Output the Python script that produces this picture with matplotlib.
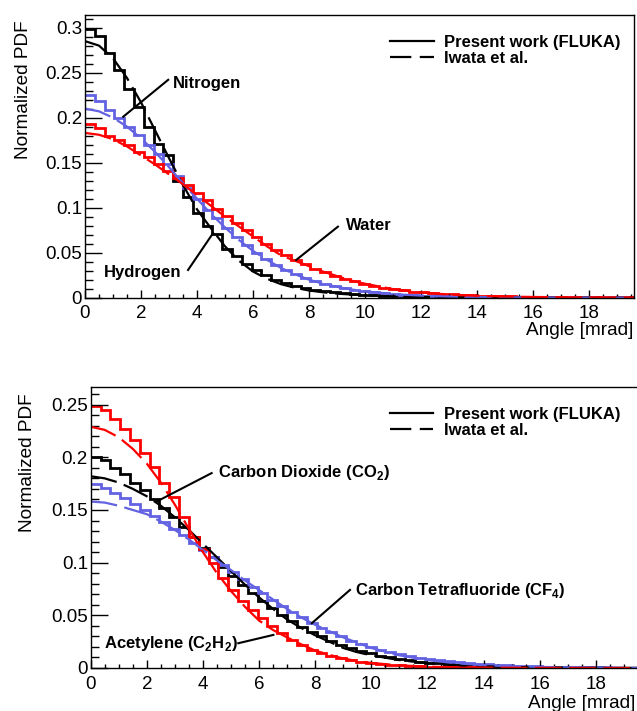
import numpy as np
import matplotlib
matplotlib.use('Agg')
import matplotlib.pyplot as plt
from matplotlib.lines import Line2D
from matplotlib.ticker import MultipleLocator, FormatStrFormatter

plt.rcParams['font.family'] = ['Liberation Sans', 'DejaVu Sans']
plt.rcParams['mathtext.fontset'] = 'custom'
plt.rcParams['mathtext.rm'] = 'Liberation Sans'
plt.rcParams['mathtext.bf'] = 'Liberation Sans:bold'

# histogram bins: 56 bins of 0.35 mrad
edges = np.linspace(0, 19.6, 57)

# ---- top panel: FLUKA histograms ----
hydrogen_hist = [0.298, 0.291, 0.272, 0.253, 0.232, 0.212, 0.190, 0.171, 0.158, 0.130,
                 0.112, 0.094, 0.080, 0.071, 0.054, 0.046, 0.037, 0.031, 0.025, 0.020,
                 0.016, 0.013, 0.0105, 0.0085, 0.007, 0.0058, 0.0047, 0.0038, 0.0031, 0.0026,
                 0.0021, 0.0017, 0.0014, 0.0012, 0.0010, 0.0008, 0.0007, 0.0006, 0.0005, 0.0004,
                 0.0003, 0.0003, 0.0002, 0.0002, 0.0002, 0.0001, 0.0001, 0.0001, 0.0001, 0.0001,
                 0.0001, 0.0001, 0.00005, 0.00005, 0.00005, 0.00005]
nitrogen_hist = [0.225, 0.219, 0.208, 0.200, 0.190, 0.181, 0.170, 0.160, 0.148, 0.135,
                 0.122, 0.110, 0.097, 0.088, 0.077, 0.067, 0.058, 0.050, 0.043, 0.036,
                 0.031, 0.026, 0.0215, 0.018, 0.015, 0.0125, 0.0104, 0.0086, 0.0071, 0.0059,
                 0.0049, 0.0040, 0.0033, 0.0027, 0.0022, 0.0018, 0.0015, 0.0012, 0.0010, 0.0008,
                 0.0007, 0.0006, 0.0005, 0.0004, 0.0003, 0.0003, 0.0002, 0.0002, 0.0002, 0.0002,
                 0.0001, 0.0001, 0.0001, 0.0001, 0.0001, 0.0001]
water_hist = [0.193, 0.188, 0.180, 0.175, 0.170, 0.162, 0.156, 0.148, 0.141, 0.133,
              0.125, 0.116, 0.108, 0.099, 0.091, 0.083, 0.075, 0.067, 0.060, 0.053,
              0.047, 0.042, 0.037, 0.032, 0.028, 0.024, 0.021, 0.018, 0.0153, 0.013,
              0.011, 0.0094, 0.008, 0.0068, 0.0058, 0.0049, 0.0042, 0.0036, 0.003, 0.0026,
              0.0022, 0.0019, 0.0016, 0.0014, 0.0012, 0.0010, 0.0009, 0.0008, 0.0007, 0.0006,
              0.0005, 0.0004, 0.0004, 0.0003, 0.0003, 0.0003]

# ---- top panel: Iwata et al. curves ----
iwata_x = [0, 0.5, 1, 1.5, 2, 2.5, 3, 3.5, 4, 4.5, 5, 5.5, 6, 6.5, 7, 7.5, 8, 8.5, 9, 9.5,
           10, 11, 12, 13, 14, 15, 16, 17, 18, 19.6]
hydrogen_iwata = [0.285, 0.280, 0.266, 0.244, 0.217, 0.186, 0.155, 0.125, 0.098, 0.077,
                  0.057, 0.041, 0.029, 0.021, 0.015, 0.011, 0.008, 0.006, 0.0045, 0.0035,
                  0.0026, 0.0015, 0.0009, 0.0005, 0.0003, 0.0002, 0.0001, 0.0001, 0.00005, 0.0]
nitrogen_iwata = [0.210, 0.207, 0.200, 0.190, 0.177, 0.162, 0.145, 0.127, 0.110, 0.093,
                  0.078, 0.064, 0.052, 0.042, 0.033, 0.026, 0.020, 0.0155, 0.012, 0.0092,
                  0.007, 0.004, 0.0023, 0.0013, 0.0007, 0.0004, 0.0002, 0.00015, 0.0001, 0.00003]
water_iwata = [0.183, 0.181, 0.176, 0.168, 0.158, 0.148, 0.137, 0.126, 0.114, 0.102,
               0.090, 0.079, 0.068, 0.057, 0.047, 0.041, 0.035, 0.029, 0.024, 0.019,
               0.0155, 0.0095, 0.0058, 0.0035, 0.0021, 0.0013, 0.0008, 0.0005, 0.0003, 0.0001]

# ---- bottom panel: FLUKA histograms ----
acetylene_hist = [0.249, 0.245, 0.236, 0.227, 0.216, 0.204, 0.191, 0.176, 0.162, 0.143,
                  0.124, 0.113, 0.100, 0.085, 0.074, 0.064, 0.055, 0.047, 0.040, 0.033,
                  0.027, 0.022, 0.017, 0.014, 0.0115, 0.0093, 0.0075, 0.006, 0.0048, 0.0038,
                  0.003, 0.0024, 0.0019, 0.0015, 0.0012, 0.0010, 0.0008, 0.0006, 0.0005, 0.0004,
                  0.0003, 0.0003, 0.0002, 0.0002, 0.0002, 0.0001, 0.0001, 0.0001, 0.0001, 0.0001,
                  0.0001, 0.0001, 0.0001, 0.0001, 0.0001, 0.0001]
co2_hist = [0.200, 0.197, 0.190, 0.184, 0.176, 0.169, 0.160, 0.152, 0.143, 0.134,
            0.124, 0.114, 0.105, 0.096, 0.087, 0.079, 0.071, 0.064, 0.057, 0.050,
            0.045, 0.039, 0.034, 0.030, 0.026, 0.022, 0.019, 0.0165, 0.014, 0.0118,
            0.010, 0.0085, 0.0072, 0.0061, 0.0051, 0.0043, 0.0036, 0.003, 0.0025, 0.0021,
            0.0018, 0.0015, 0.0012, 0.0010, 0.0009, 0.0007, 0.0006, 0.0005, 0.0004, 0.0004,
            0.0003, 0.0003, 0.0002, 0.0002, 0.0002, 0.0001]
cf4_hist = [0.175, 0.171, 0.166, 0.161, 0.156, 0.150, 0.144, 0.139, 0.132, 0.126,
            0.119, 0.112, 0.105, 0.098, 0.091, 0.084, 0.077, 0.071, 0.065, 0.059,
            0.053, 0.048, 0.043, 0.038, 0.034, 0.030, 0.026, 0.023, 0.020, 0.0175,
            0.0152, 0.0132, 0.0114, 0.0098, 0.0085, 0.0073, 0.0063, 0.0054, 0.0046, 0.004,
            0.0034, 0.0029, 0.0025, 0.0021, 0.0018, 0.0015, 0.0013, 0.0011, 0.0009, 0.0008,
            0.0007, 0.0006, 0.0005, 0.0004, 0.0004, 0.0003]

# ---- bottom panel: Iwata et al. curves (same x grid) ----
acetylene_iwata = [0.229, 0.226, 0.219, 0.208, 0.194, 0.176, 0.155, 0.132, 0.110, 0.090,
                   0.073, 0.058, 0.045, 0.036, 0.029, 0.0225, 0.0165, 0.0125, 0.009, 0.0066,
                   0.0048, 0.0025, 0.0013, 0.0007, 0.0004, 0.0002, 0.0001, 0.00005, 0.0, 0.0]
co2_iwata = [0.182, 0.180, 0.176, 0.170, 0.163, 0.154, 0.143, 0.131, 0.118, 0.105,
             0.092, 0.079, 0.067, 0.056, 0.046, 0.038, 0.031, 0.025, 0.019, 0.015,
             0.012, 0.0075, 0.0045, 0.0027, 0.0016, 0.0009, 0.0005, 0.0003, 0.0002, 0.0001]
cf4_iwata = [0.158, 0.157, 0.154, 0.150, 0.146, 0.139, 0.131, 0.122, 0.112, 0.102,
             0.093, 0.083, 0.074, 0.065, 0.056, 0.048, 0.041, 0.035, 0.029, 0.024,
             0.019, 0.012, 0.0075, 0.0045, 0.0027, 0.0016, 0.001, 0.0006, 0.0003, 0.0001]

BLUE = '#6262e2'
RED = '#ff0000'
DASH = (12, 3.4)

fig = plt.figure(figsize=(6.37, 7.11), dpi=100)
ax1 = fig.add_axes([0.1334, 0.5813, 0.8619, 0.3976])
ax2 = fig.add_axes([0.1424, 0.0605, 0.8634, 0.3956])


def style_axis(ax, ymax, leg_anchor):
    ax.set_xlim(0, 19.6)
    ax.set_ylim(0, ymax)
    ax.xaxis.set_major_locator(MultipleLocator(2))
    ax.xaxis.set_minor_locator(MultipleLocator(0.5))
    ax.yaxis.set_major_locator(MultipleLocator(0.05))
    ax.yaxis.set_minor_locator(MultipleLocator(0.01))
    ax.yaxis.set_major_formatter(FormatStrFormatter('%g'))
    ax.tick_params(axis='both', which='both', direction='in', width=1.0,
                   labelsize=13.5, top=False, right=False)
    ax.tick_params(axis='y', which='major', length=11.9, pad=2)
    ax.tick_params(axis='y', which='minor', length=6)
    ax.tick_params(axis='x', which='major', length=6.1, pad=5.5)
    ax.tick_params(axis='x', which='minor', length=3.1)
    for s in ax.spines.values():
        s.set_linewidth(1.0)
    leg_handles = [Line2D([], [], color='black', lw=1.6),
                   Line2D([], [], color='black', lw=1.6, dashes=(9.6, 3.8))]
    ax.legend(leg_handles, ['Present work (FLUKA)', 'Iwata et al.'],
              loc='upper left', bbox_to_anchor=leg_anchor, frameon=False,
              handlelength=2.6, handletextpad=0.65, labelspacing=0.05,
              borderpad=0, borderaxespad=0,
              prop={'weight': 'bold', 'size': 12})


def draw_set(ax, hist, curve, color):
    ax.stairs(hist, edges, baseline=None, color=color, lw=2.0)
    ax.plot(iwata_x, curve, color=color, lw=1.6, dashes=DASH)


# top panel
draw_set(ax1, hydrogen_hist, hydrogen_iwata, 'black')
draw_set(ax1, nitrogen_hist, nitrogen_iwata, BLUE)
draw_set(ax1, water_hist, water_iwata, RED)
style_axis(ax1, 0.314, (0.556, 0.93))
ax1.set_ylabel('Normalized PDF', fontsize=13.7, loc='top')
ax1.yaxis.set_label_coords(-0.097, 0.982)
ax1.set_xlabel('Angle [mrad]', fontsize=13.7, loc='right')
ax1.xaxis.set_label_coords(0.998, -0.086)

lab = dict(fontsize=12, fontweight='bold', ha='left', va='baseline')
ax1.text(3.14, 0.233, 'Nitrogen', **lab)
ax1.plot([2.97, 1.365], [0.242, 0.201], color='black', lw=1.5)
ax1.text(0.677, 0.023, 'Hydrogen', **lab)
ax1.plot([3.68, 4.57], [0.0308, 0.0716], color='black', lw=1.5)
ax1.text(9.33, 0.0755, 'Water', **lab)
ax1.plot([9.03, 7.54], [0.0789, 0.0419], color='black', lw=1.5)

# bottom panel
draw_set(ax2, co2_hist, co2_iwata, 'black')
draw_set(ax2, cf4_hist, cf4_iwata, BLUE)
draw_set(ax2, acetylene_hist, acetylene_iwata, RED)
style_axis(ax2, 0.267, (0.544, 0.927))
ax2.set_ylabel('Normalized PDF', fontsize=13.7, loc='top')
ax2.yaxis.set_label_coords(-0.1, 0.978)
ax2.set_xlabel('Angle [mrad]', fontsize=13.7, loc='right')
ax2.xaxis.set_label_coords(0.99, -0.096)
ax2.spines['right'].set_visible(False)

ax2.text(4.54, 0.1816, r'Carbon Dioxide (CO$_\mathbf{2}$)', **lab)
ax2.plot([4.31, 2.35], [0.185, 0.158], color='black', lw=1.5)
ax2.text(9.42, 0.0694, r'Carbon Tetrafluoride (CF$_\mathbf{4}$)', **lab)
ax2.plot([9.24, 7.88], [0.0741, 0.0425], color='black', lw=1.5)
ax2.text(0.475, 0.019, r'Acetylene (C$_\mathbf{2}$H$_\mathbf{2}$)', **lab)
ax2.plot([5.26, 6.51], [0.0235, 0.0314], color='black', lw=1.5)

fig.savefig('out.png', dpi=100)
